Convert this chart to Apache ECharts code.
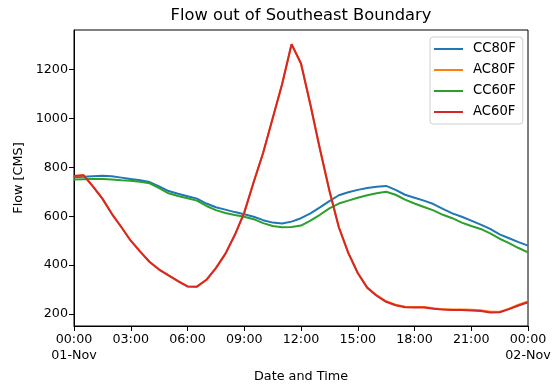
<!DOCTYPE html>
<html>
<head>
<meta charset="utf-8">
<script src="https://cdn.jsdelivr.net/npm/echarts@6/dist/echarts.min.js"></script>
<style>
  html, body { margin: 0; padding: 0; background: #fff; }
  #chart { width: 555px; height: 390px; }
</style>
</head>
<body>
<div id="chart"></div>
<script>
// Time of day in hours (half-hour steps) from 00:00 01-Nov to 00:00 02-Nov
const hours = [0, 0.5, 1, 1.5, 2, 2.5, 3, 3.5, 4, 4.5, 5, 5.5, 6, 6.5, 7, 7.5, 8, 8.5,
  9, 9.5, 10, 10.5, 11, 11.5, 12, 12.5, 13, 13.5, 14, 14.5, 15, 15.5, 16, 16.5, 17, 17.5,
  18, 18.5, 19, 19.5, 20, 20.5, 21, 21.5, 22, 22.5, 23, 23.5, 24];

// Flow [CMS] for each scenario
const cc80f = [760, 762, 764, 766, 764, 758, 752, 747, 740, 722, 703, 692, 682, 672, 652, 637,
  627, 617, 608, 598, 584, 574, 570, 578, 592, 612, 636, 662, 686, 698, 708, 716, 721, 724,
  708, 688, 676, 664, 650, 630, 612, 598, 582, 566, 548, 526, 510, 494, 480];
const ac80f = [765, 768, 722, 672, 610, 556, 500, 455, 413, 382, 358, 335, 313, 312, 340, 388,
  446, 523, 615, 740, 860, 1000, 1140, 1304, 1225, 1055, 875, 705, 555, 450, 368, 308, 276, 252,
  238, 230, 229, 229, 224, 220, 218, 218, 217, 215, 209, 209, 222, 238, 251];
const cc60f = [750, 751, 752, 752, 750, 747, 745, 741, 735, 715, 694, 683, 674, 664, 642, 625,
  613, 605, 598, 588, 572, 560, 555, 556, 562, 582, 606, 632, 652, 664, 676, 686, 694, 700,
  688, 668, 652, 638, 624, 606, 592, 574, 560, 548, 530, 508, 490, 470, 452];
const ac60f = [765, 768, 722, 672, 610, 556, 500, 455, 413, 382, 358, 335, 313, 312, 340, 388,
  446, 523, 615, 740, 860, 1000, 1140, 1304, 1225, 1055, 875, 705, 555, 450, 368, 308, 275, 250,
  236, 228, 227, 227, 222, 218, 216, 216, 214, 212, 206, 207, 220, 235, 248];

// Axis ticks
const xTickValues = [0, 3, 6, 9, 12, 15, 18, 21, 24];
const xTickLabels = ['00:00\n01-Nov', '03:00', '06:00', '09:00', '12:00', '15:00', '18:00', '21:00', '00:00\n02-Nov'];
const yTickValues = [200, 400, 600, 800, 1000, 1200];

const seriesNames = ['CC80F', 'AC80F', 'CC60F', 'AC60F'];
const seriesValues = [cc80f, ac80f, cc60f, ac60f];
const colors = ['#1f77b4', '#ff7f0e', '#2ca02c', '#d62728'];

const FONT = 'DejaVu Sans';

const chart = echarts.init(document.getElementById('chart'), null, { renderer: 'canvas' });

chart.setOption({
  animation: false,
  backgroundColor: '#fff',
  color: colors,
  title: {
    text: 'Flow out of Southeast Boundary',
    left: 301,
    textAlign: 'center',
    top: 8,
    padding: 0,
    textStyle: { fontFamily: FONT, fontSize: 16.3, fontWeight: 'normal', color: '#000' }
  },
  legend: {
    orient: 'vertical',
    left: 430,
    top: 37,
    padding: [5, 7, 5, 4],
    itemGap: 7,
    itemWidth: 29,
    itemHeight: 2,
    icon: 'rect',
    borderColor: '#d0d0d0',
    borderWidth: 1,
    borderRadius: 3,
    backgroundColor: 'rgba(255,255,255,0.8)',
    textStyle: { fontFamily: FONT, fontSize: 13.2, color: '#000', padding: [0, 0, 0, 5], lineHeight: 14 },
    data: seriesNames
  },
  grid: {
    left: 74, right: 27, top: 30, bottom: 64,
    show: true, borderColor: '#000', borderWidth: 1, backgroundColor: 'transparent'
  },
  xAxis: {
    type: 'value',
    min: 0,
    max: 24,
    name: 'Date and Time',
    nameLocation: 'middle',
    nameGap: 44,
    nameTextStyle: { fontFamily: FONT, fontSize: 12.8, color: '#000' },
    axisLine: { show: true, lineStyle: { color: '#000', width: 1 } },
    axisTick: { show: true, length: 5, customValues: xTickValues, lineStyle: { color: '#000' } },
    axisLabel: {
      customValues: xTickValues,
      margin: 6,
      fontFamily: FONT, fontSize: 12.7, color: '#000', lineHeight: 15.5,
      formatter: (v) => xTickLabels[xTickValues.indexOf(v)]
    },
    splitLine: { show: false }
  },
  yAxis: {
    type: 'value',
    min: 151,
    max: 1362,
    name: 'Flow [CMS]',
    nameLocation: 'middle',
    nameGap: 47,
    nameTextStyle: { fontFamily: FONT, fontSize: 12.8, color: '#000' },
    axisLine: { show: true, lineStyle: { color: '#000', width: 1 } },
    axisTick: { show: true, length: 5, customValues: yTickValues, lineStyle: { color: '#000' } },
    axisLabel: {
      customValues: yTickValues,
      margin: 6,
      fontFamily: FONT, fontSize: 12.7, color: '#000',
      formatter: (v) => String(v)
    },
    splitLine: { show: false }
  },
  series: seriesNames.map((name, k) => ({
    name: name,
    type: 'line',
    showSymbol: false,
    symbol: 'none',
    lineStyle: { width: 2, color: colors[k] },
    data: hours.map((h, i) => [h, seriesValues[k][i]])
  }))
});
</script>
</body>
</html>
